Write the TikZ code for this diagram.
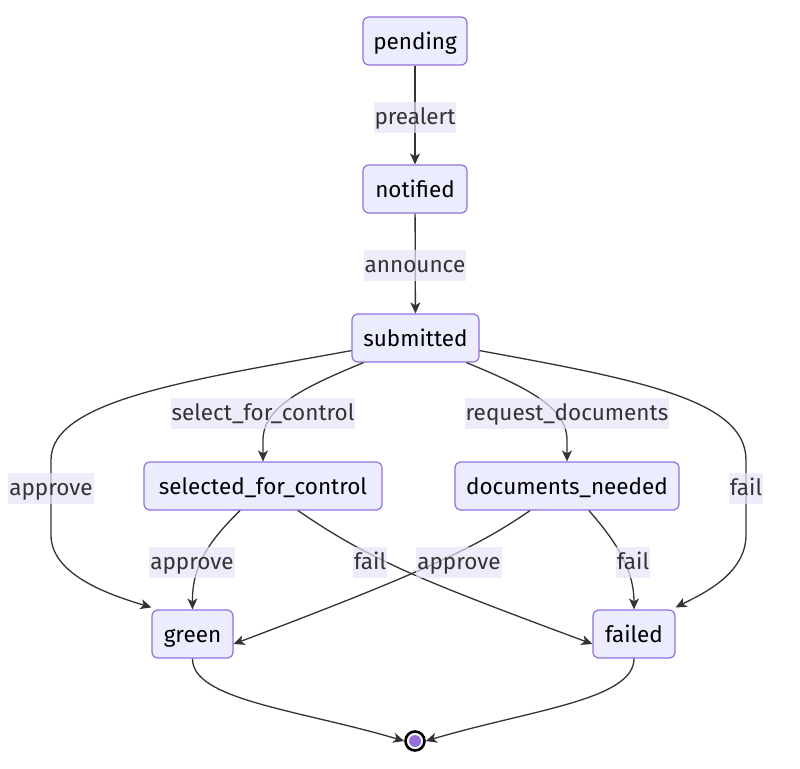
\documentclass[tikz,border=0pt]{standalone}
\usepackage{fontspec}
\setmainfont{Fira Sans}
\usetikzlibrary{arrows.meta}
\definecolor{nodefill}{HTML}{ECECFF}
\definecolor{nodeborder}{HTML}{9370DB}
\definecolor{edgec}{HTML}{333333}
\definecolor{lblfill}{HTML}{E4E4FA}
\begin{document}
\begin{tikzpicture}[x=1pt,y=-1pt,
  state/.style={draw=nodeborder, fill=nodefill, rounded corners=6pt, line width=1.2pt,
    minimum height=48pt, inner xsep=2pt, inner ysep=0pt, text=black,
    text height=19pt, text depth=2pt,
    font=\fontsize{22.5}{26}\selectfont},
  lbl/.style={fill=lblfill, fill opacity=0.7, text opacity=1, text=edgec,
    text height=18pt, text depth=3pt,
    inner xsep=1pt, inner ysep=5pt, font=\fontsize{22.5}{26}\selectfont},
  edge/.style={draw=edgec, line width=1.3pt, -{Stealth[length=11pt,width=10pt,inset=3pt]}}]
\useasboundingbox (0,0) rectangle (800,768);
\fill[white] (0,0) rectangle (800,768);

\node[state, minimum width=104pt] (pending) at (415,41) {pending};
\node[state, minimum width=104pt] (notified) at (415,189) {notified};
\node[state, minimum width=127pt] (submitted) at (415.5,338) {submitted};
\node[state, minimum width=238pt] (sel) at (263,486) {selected\_for\_control};
\node[state, minimum width=224pt] (docs) at (567,486) {documents\_needed};
\node[state, minimum width=81pt] (green) at (192.5,634) {green};
\node[state, minimum width=82pt] (failed) at (634,634) {failed};

\node[circle, draw=black, line width=2.6pt, fill=white, minimum size=19pt, inner sep=0pt] (end) at (415,741) {};
\fill[nodeborder] (end.center) circle (6pt);

% edges
\draw[edge] (pending) -- (notified);
\draw[edge] (notified) -- (submitted);
\draw[edge] (submitted.south west) ++(0,-12) coordinate (s1)
  (s1) .. controls (190,380) and (51,400) .. (51,460)
  -- (51,535) .. controls (51,575) and (110,595) .. ([xshift=0pt,yshift=2pt]green.north west);
\draw[edge] (submitted.south east) ++(0,-12) coordinate (s2)
  (s2) .. controls (640,380) and (746,400) .. (746,460)
  -- (746,535) .. controls (746,575) and (700,595) .. ([yshift=2pt]failed.north east);
\draw[edge] ([xshift=-52pt]submitted.south) .. controls (310,385) and (263,405) .. (263,440) -- (sel.north);
\draw[edge] ([xshift=51pt]submitted.south) .. controls (520,385) and (567,405) .. (567,440) -- (docs.north);
\draw[edge] ([xshift=-23pt]sel.south) .. controls (210,540) and (192,565) .. (green.north);
\draw[edge] ([xshift=35pt]sel.south) .. controls (370,560) and (420,580) .. ([yshift=-10pt]failed.west);
\draw[edge] ([xshift=-37pt]docs.south) .. controls (480,545) and (430,570) .. ([yshift=-10pt]green.east);
\draw[edge] ([xshift=22pt]docs.south) .. controls (610,535) and (634,565) .. (failed.north);
\draw[edge] (green.south) .. controls (192,700) and (300,710) .. (end.west);
\draw[edge] (failed.south) .. controls (634,700) and (530,710) .. (end.east);

% labels
\node[lbl] (l1) at (415,117) {prealert};
\node[lbl] (l2) at (415,265) {announce};
\node[lbl] (l3) at (263,413) {select\_for\_control};
\node[lbl] (l4) at (567,413) {request\_documents};
\node[lbl] (l5) at (51,488) {approve};
\node[lbl] (l6) at (746,488) {fail};
\node[lbl] (l7) at (192,562) {approve};
\node[lbl] (l8) at (370,562) {fail};
\node[lbl] (l9) at (459,562) {approve};
\node[lbl] (l10) at (633,562) {fail};
\end{tikzpicture}
\end{document}
